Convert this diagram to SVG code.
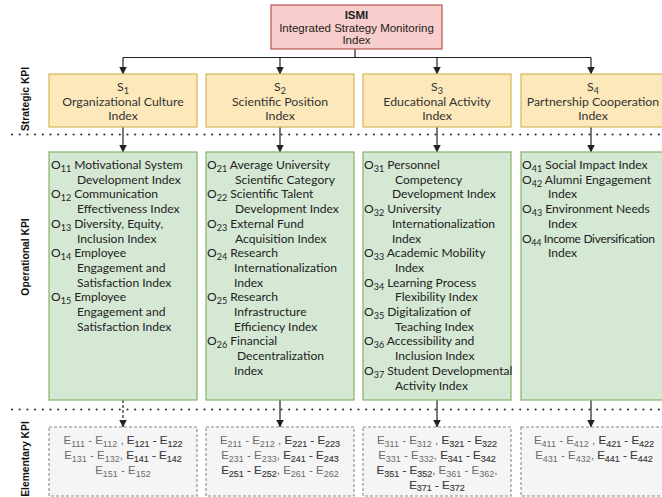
<svg xmlns="http://www.w3.org/2000/svg" width="662" height="497" viewBox="0 0 662 497">
  <defs>
    <marker id="arrow" markerWidth="8" markerHeight="8" refX="7.5" refY="4" orient="auto" markerUnits="userSpaceOnUse">
      <path d="M0,0 L8,4 L0,8 Z" fill="#222"/>
    </marker>
    <style>
      .top { fill: #f8cecc; stroke: #b85450; stroke-width: 1.2; }
      .str { fill: #fce8bb; stroke: #d6b656; stroke-width: 1.2; }
      .opr { fill: #d5e8d4; stroke: #82b366; stroke-width: 1.2; }
      .ele { fill: #f5f5f5; stroke: #8a8a8a; stroke-width: 1.1; stroke-dasharray: 3 2; }
      .sep { fill: none; stroke: #333; stroke-width: 2.2; stroke-linecap: round; stroke-dasharray: 0 7.7; }
      .link { fill: none; stroke: #222; stroke-width: 1.2; }
      .dashed { stroke-dasharray: 3 2; }
      .arr { marker-end: url(#arrow); }
      .hd { font-family: "Liberation Sans", Arial, sans-serif; font-size: 11.5px; fill: #222; text-anchor: middle; }
      .hdb { font-weight: bold; }
      .s { font-family: Lato, "Open Sans", sans-serif; font-size: 12.3px; fill: #333; text-anchor: middle; }
      .o { font-family: Lato, "Open Sans", sans-serif; font-size: 12.1px; fill: #222; }
      .tight { letter-spacing: -0.35px; }
      .sub { font-size: 9px; }
      .e { font-family: "Liberation Sans", Arial, sans-serif; font-size: 11.5px; fill: #6a6a6a; text-anchor: middle; }
      .e .sub { font-size: 9px; }
      .eb { fill: #3a3a3a; stroke: #3a3a3a; stroke-width: 0.15; }
      .lvl { font-family: "Liberation Sans", Arial, sans-serif; font-size: 10.3px; font-weight: bold; fill: #111; text-anchor: middle; }
    </style>
  </defs>

  <!-- level labels -->
  <text class="lvl" transform="translate(29,99) rotate(-90)">Strategic KPI</text>
  <text class="lvl" transform="translate(29,257) rotate(-90)">Operational KPI</text>
  <text class="lvl" transform="translate(29,459) rotate(-90)">Elementary KPI</text>

  <!-- level separators -->
  <line class="sep" x1="12" y1="134.5" x2="662" y2="134.5"/>
  <line class="sep" x1="12" y1="409.5" x2="662" y2="409.5"/>

  <!-- connectors -->
  <g id="connectors">
    <path class="link" d="M355,49 V57.5 M123,57.5 H591"/>
    <path class="link arr" d="M123,57.5 V74"/>
    <path class="link arr" d="M280,57.5 V74"/>
    <path class="link arr" d="M437,57.5 V74"/>
    <path class="link arr" d="M591,57.5 V74"/>
    <path class="link arr" d="M123,127 V152"/>
    <path class="link arr" d="M280,127 V152"/>
    <path class="link arr" d="M437,127 V152"/>
    <path class="link arr" d="M591,127 V152"/>
    <path class="link arr dashed" d="M123,400 V427"/>
    <path class="link arr" d="M280,400 V427"/>
    <path class="link arr" d="M437,400 V427"/>
    <path class="link arr" d="M591,400 V427"/>
  </g>

  <!-- index -->
  <g id="ismi">
    <rect class="top" x="271" y="5" width="171" height="44"/>
    <text class="hd hdb" x="356.5" y="19">ISMI</text>
    <text class="hd" x="356.5" y="31.5">Integrated Strategy Monitoring</text>
    <text class="hd" x="356.5" y="43.5">Index</text>
  </g>

  <!-- strategic KPIs -->
  <g id="s1">
    <rect class="str" x="49" y="74" width="148" height="53"/>
    <text class="s" x="123" y="91">S<tspan class="sub" dy="2.5">1</tspan></text>
    <text class="s" x="123" y="106">Organizational Culture</text>
    <text class="s" x="123" y="120">Index</text>
  </g>
  <g id="s2">
    <rect class="str" x="206" y="74" width="148" height="53"/>
    <text class="s" x="280" y="91">S<tspan class="sub" dy="2.5">2</tspan></text>
    <text class="s" x="280" y="106">Scientific Position</text>
    <text class="s" x="280" y="120">Index</text>
  </g>
  <g id="s3">
    <rect class="str" x="363" y="74" width="148" height="53"/>
    <text class="s" x="437" y="91">S<tspan class="sub" dy="2.5">3</tspan></text>
    <text class="s" x="437" y="106">Educational Activity</text>
    <text class="s" x="437" y="120">Index</text>
  </g>
  <g id="s4">
    <rect class="str" x="521" y="74" width="150" height="53"/>
    <text class="s" x="593" y="91">S<tspan class="sub" dy="2.5">4</tspan></text>
    <text class="s" x="593" y="106">Partnership Cooperation</text>
    <text class="s" x="593" y="120">Index</text>
  </g>

  <!-- operational KPIs -->
  <g id="o1">
    <rect class="opr" x="49" y="152" width="148" height="248"/>
    <text class="o" x="51" y="169">O<tspan class="sub" dy="3">11</tspan><tspan dy="-3"> Motivational System</tspan></text>
    <text class="o" x="77" y="183.7">Development Index</text>
    <text class="o" x="51" y="198.4">O<tspan class="sub" dy="3">12</tspan><tspan dy="-3"> Communication</tspan></text>
    <text class="o" x="77" y="213.1">Effectiveness Index</text>
    <text class="o" x="51" y="227.8">O<tspan class="sub" dy="3">13</tspan><tspan dy="-3"> Diversity, Equity,</tspan></text>
    <text class="o" x="77" y="242.5">Inclusion Index</text>
    <text class="o" x="51" y="257.2">O<tspan class="sub" dy="3">14</tspan><tspan dy="-3"> Employee</tspan></text>
    <text class="o" x="77" y="271.9">Engagement and</text>
    <text class="o" x="77" y="286.6">Satisfaction Index</text>
    <text class="o" x="51" y="301.3">O<tspan class="sub" dy="3">15</tspan><tspan dy="-3"> Employee</tspan></text>
    <text class="o" x="77" y="316">Engagement and</text>
    <text class="o" x="77" y="330.7">Satisfaction Index</text>
  </g>
  <g id="o2">
    <rect class="opr" x="206" y="152" width="148" height="248"/>
    <text class="o" x="207" y="169">O<tspan class="sub" dy="3">21</tspan><tspan dy="-3"> Average University</tspan></text>
    <text class="o" x="235" y="183.7">Scientific Category</text>
    <text class="o" x="207" y="198.4">O<tspan class="sub" dy="3">22</tspan><tspan dy="-3"> Scientific Talent</tspan></text>
    <text class="o" x="235" y="213.1">Development Index</text>
    <text class="o" x="207" y="227.8">O<tspan class="sub" dy="3">23</tspan><tspan dy="-3"> External Fund</tspan></text>
    <text class="o" x="235" y="242.5">Acquisition Index</text>
    <text class="o" x="207" y="257.2">O<tspan class="sub" dy="3">24</tspan><tspan dy="-3"> Research</tspan></text>
    <text class="o" x="234" y="271.9">Internationalization</text>
    <text class="o" x="234" y="286.6">Index</text>
    <text class="o" x="207" y="301.3">O<tspan class="sub" dy="3">25</tspan><tspan dy="-3"> Research</tspan></text>
    <text class="o" x="234" y="316">Infrastructure</text>
    <text class="o" x="234" y="330.7">Efficiency Index</text>
    <text class="o" x="207" y="345.4">O<tspan class="sub" dy="3">26</tspan><tspan dy="-3"> Financial</tspan></text>
    <text class="o" x="237" y="360.1">Decentralization</text>
    <text class="o" x="234" y="374.8">Index</text>
  </g>
  <g id="o3">
    <rect class="opr" x="363" y="152" width="148" height="248"/>
    <text class="o" x="364" y="169">O<tspan class="sub" dy="3">31</tspan><tspan dy="-3"> Personnel</tspan></text>
    <text class="o" x="395" y="183.7">Competency</text>
    <text class="o" x="392" y="198.4">Development Index</text>
    <text class="o" x="364" y="213.1">O<tspan class="sub" dy="3">32</tspan><tspan dy="-3"> University</tspan></text>
    <text class="o" x="392" y="227.8">Internationalization</text>
    <text class="o" x="392" y="242.5">Index</text>
    <text class="o" x="364" y="257.2">O<tspan class="sub" dy="3">33</tspan><tspan dy="-3"> Academic Mobility</tspan></text>
    <text class="o" x="395" y="271.9">Index</text>
    <text class="o" x="364" y="286.6">O<tspan class="sub" dy="3">34</tspan><tspan dy="-3"> Learning Process</tspan></text>
    <text class="o" x="395" y="301.3">Flexibility Index</text>
    <text class="o" x="364" y="316">O<tspan class="sub" dy="3">35</tspan><tspan dy="-3"> Digitalization of</tspan></text>
    <text class="o" x="395" y="330.7">Teaching Index</text>
    <text class="o" x="364" y="345.4">O<tspan class="sub" dy="3">36</tspan><tspan dy="-3"> Accessibility and</tspan></text>
    <text class="o" x="395" y="360.1">Inclusion Index</text>
    <text class="o" x="364" y="374.8">O<tspan class="sub" dy="3">37</tspan><tspan dy="-3"> Student Developmental</tspan></text>
    <text class="o" x="395" y="389.5">Activity Index</text>
  </g>
  <g id="o4">
    <rect class="opr" x="521" y="152" width="150" height="248"/>
    <text class="o" x="522" y="169">O<tspan class="sub" dy="3">41</tspan><tspan dy="-3"> Social Impact Index</tspan></text>
    <text class="o" x="522" y="183.7">O<tspan class="sub" dy="3">42</tspan><tspan dy="-3"> Alumni Engagement</tspan></text>
    <text class="o" x="548" y="198.4">Index</text>
    <text class="o" x="522" y="213.1">O<tspan class="sub" dy="3">43</tspan><tspan dy="-3"> Environment Needs</tspan></text>
    <text class="o" x="548" y="227.8">Index</text>
    <text class="o tight" x="522" y="242.5">O<tspan class="sub" dy="3">44</tspan><tspan dy="-3"> Income Diversification</tspan></text>
    <text class="o" x="548" y="257.2">Index</text>
  </g>

  <!-- elementary KPIs -->
  <g id="e1">
    <rect class="ele" x="49" y="427" width="148" height="69"/>
    <text class="e" x="123" y="444">E<tspan class="sub" dy="2.5">111</tspan><tspan dy="-2.5"> - E</tspan><tspan class="sub" dy="2.5">112</tspan><tspan dy="-2.5"> , </tspan><tspan class="eb">E</tspan><tspan class="sub eb" dy="2.5">121</tspan><tspan class="eb" dy="-2.5"> - E</tspan><tspan class="sub eb" dy="2.5">122</tspan></text>
    <text class="e" x="123" y="459">E<tspan class="sub" dy="2.5">131</tspan><tspan dy="-2.5"> - E</tspan><tspan class="sub" dy="2.5">132</tspan><tspan dy="-2.5">, </tspan><tspan class="eb">E</tspan><tspan class="sub eb" dy="2.5">141</tspan><tspan class="eb" dy="-2.5"> - E</tspan><tspan class="sub eb" dy="2.5">142</tspan></text>
    <text class="e" x="123" y="474">E<tspan class="sub" dy="2.5">151</tspan><tspan dy="-2.5"> - E</tspan><tspan class="sub" dy="2.5">152</tspan></text>
  </g>
  <g id="e2">
    <rect class="ele" x="206" y="427" width="148" height="69"/>
    <text class="e" x="280" y="444">E<tspan class="sub" dy="2.5">211</tspan><tspan dy="-2.5"> - E</tspan><tspan class="sub" dy="2.5">212</tspan><tspan dy="-2.5"> , </tspan><tspan class="eb">E</tspan><tspan class="sub eb" dy="2.5">221</tspan><tspan class="eb" dy="-2.5"> - E</tspan><tspan class="sub eb" dy="2.5">223</tspan></text>
    <text class="e" x="280" y="459">E<tspan class="sub" dy="2.5">231</tspan><tspan dy="-2.5"> - E</tspan><tspan class="sub" dy="2.5">233</tspan><tspan dy="-2.5">, </tspan><tspan class="eb">E</tspan><tspan class="sub eb" dy="2.5">241</tspan><tspan class="eb" dy="-2.5"> - E</tspan><tspan class="sub eb" dy="2.5">243</tspan></text>
    <text class="e" x="280" y="474"><tspan class="eb">E</tspan><tspan class="sub eb" dy="2.5">251</tspan><tspan class="eb" dy="-2.5"> - E</tspan><tspan class="sub eb" dy="2.5">252</tspan><tspan dy="-2.5">, E</tspan><tspan class="sub" dy="2.5">261</tspan><tspan dy="-2.5"> - E</tspan><tspan class="sub" dy="2.5">262</tspan></text>
  </g>
  <g id="e3">
    <rect class="ele" x="363" y="427" width="148" height="69"/>
    <text class="e" x="437" y="444">E<tspan class="sub" dy="2.5">311</tspan><tspan dy="-2.5"> - E</tspan><tspan class="sub" dy="2.5">312</tspan><tspan dy="-2.5"> , </tspan><tspan class="eb">E</tspan><tspan class="sub eb" dy="2.5">321</tspan><tspan class="eb" dy="-2.5"> - E</tspan><tspan class="sub eb" dy="2.5">322</tspan></text>
    <text class="e" x="437" y="459">E<tspan class="sub" dy="2.5">331</tspan><tspan dy="-2.5"> - E</tspan><tspan class="sub" dy="2.5">332</tspan><tspan dy="-2.5">, </tspan><tspan class="eb">E</tspan><tspan class="sub eb" dy="2.5">341</tspan><tspan class="eb" dy="-2.5"> - E</tspan><tspan class="sub eb" dy="2.5">342</tspan></text>
    <text class="e" x="437" y="474"><tspan class="eb">E</tspan><tspan class="sub eb" dy="2.5">351</tspan><tspan class="eb" dy="-2.5"> - E</tspan><tspan class="sub eb" dy="2.5">352</tspan><tspan dy="-2.5">, E</tspan><tspan class="sub" dy="2.5">361</tspan><tspan dy="-2.5"> - E</tspan><tspan class="sub" dy="2.5">362</tspan><tspan dy="-2.5">,</tspan></text>
    <text class="e" x="437" y="488.5"><tspan class="eb">E</tspan><tspan class="sub eb" dy="2.5">371</tspan><tspan class="eb" dy="-2.5"> - E</tspan><tspan class="sub eb" dy="2.5">372</tspan></text>
  </g>
  <g id="e4">
    <rect class="ele" x="521" y="427" width="150" height="69"/>
    <text class="e" x="594" y="444">E<tspan class="sub" dy="2.5">411</tspan><tspan dy="-2.5"> - E</tspan><tspan class="sub" dy="2.5">412</tspan><tspan dy="-2.5"> , </tspan><tspan class="eb">E</tspan><tspan class="sub eb" dy="2.5">421</tspan><tspan class="eb" dy="-2.5"> - E</tspan><tspan class="sub eb" dy="2.5">422</tspan></text>
    <text class="e" x="594" y="459">E<tspan class="sub" dy="2.5">431</tspan><tspan dy="-2.5"> - E</tspan><tspan class="sub" dy="2.5">432</tspan><tspan dy="-2.5">, </tspan><tspan class="eb">E</tspan><tspan class="sub eb" dy="2.5">441</tspan><tspan class="eb" dy="-2.5"> - E</tspan><tspan class="sub eb" dy="2.5">442</tspan></text>
  </g>
</svg>
